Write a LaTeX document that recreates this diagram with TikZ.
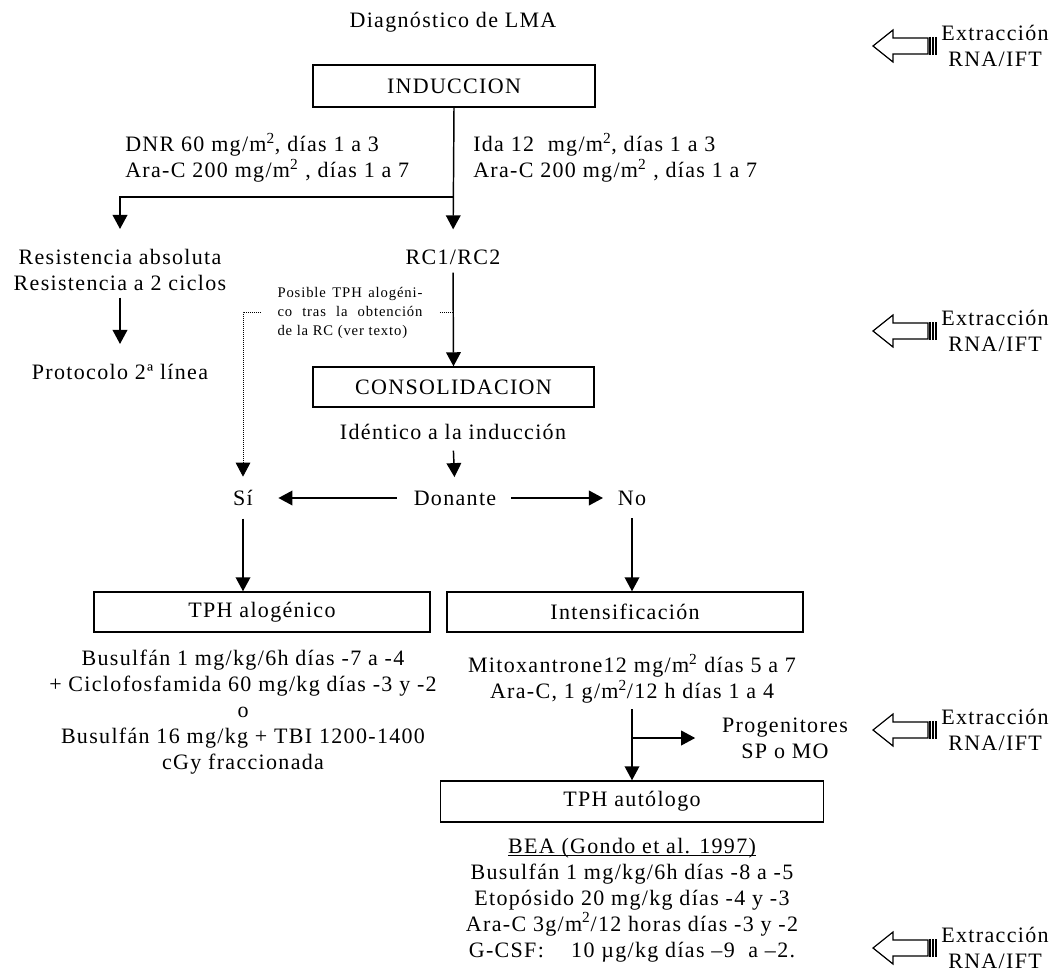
\documentclass[tikz,border=0pt]{standalone}
\usepackage{fontspec}
\setmainfont{Liberation Serif}[LetterSpace=6]
\usetikzlibrary{arrows.meta}

\tikzset{
  txt/.style={inner sep=0pt, align=center, font=\fontsize{16.5}{19.5}\selectfont},
  small/.style={inner sep=0pt, align=left, font=\fontsize{11}{14}\selectfont},
  stage/.style={draw, line width=1.1pt, inner sep=0pt, minimum height=30pt,
    font=\fontsize{16.5}{19.5}\selectfont},
  flow/.style={line width=1.1pt, -{Triangle[length=10.5pt,width=11pt]}},
  optional/.style={flow, line width=0.6pt, dash pattern=on 0.6pt off 0.9pt},
  into/.style={shorten >=#1},
  outof/.style={shorten <=#1},
}

\begin{document}
\begin{tikzpicture}[x=0.75pt,y=-0.75pt]
\useasboundingbox (0,0) rectangle (1055,973);

\node[txt] (diag) at (453,22) {Diagnóstico de LMA};
\node[stage, minimum width=211.5pt, minimum height=31.5pt] (induccion) at (454,86) {INDUCCION};

\node[txt, anchor=west, align=left] (dnr) at (125,158) {DNR 60 mg/m\textsuperscript{2}, días 1 a 3\\Ara-C 200 mg/m\textsuperscript{2} , días 1 a 7};
\node[txt, anchor=west, align=left] (ida) at (473,158) {Ida 12\ \ mg/m\textsuperscript{2}, días 1 a 3\\Ara-C 200 mg/m\textsuperscript{2} , días 1 a 7};

\node[txt] (rc) at (453,257) {RC1/RC2};
\node[txt] (resist) at (120,270) {Resistencia absoluta\\Resistencia a 2 ciclos};
\node[txt] (proto) at (120,372) {Protocolo 2ª línea};

\node[stage, minimum width=210.75pt] (consol) at (453.5,387) {CONSOLIDACION};
\node[txt] (ident) at (453,432) {Idéntico a la inducción};

\node[txt] (donante) at (455,498) {Donante};
\node[txt] (si) at (243,498) {Sí};
\node[txt] (no) at (632,498) {No};

\node[stage, minimum width=252pt] (alog) at (262,612) {TPH alogénico};
\node[stage, minimum width=267pt] (intens) at (625,612) {Intensificación};

\node[txt] (alogtxt) at (243,712) {Busulfán 1 mg/kg/6h días -7 a -4\\+ Ciclofosfamida 60 mg/kg días -3 y -2\\o\\Busulfán 16 mg/kg + TBI 1200-1400\\cGy fraccionada};
\node[txt] (intenstxt) at (632,679) {Mitoxantrone12 mg/m\textsuperscript{2} días 5 a 7\\Ara-C, 1 g/m\textsuperscript{2}/12 h días 1 a 4};
\node[txt] (prog) at (785,738) {Progenitores\\SP o MO};

\node[stage, minimum width=287.25pt, minimum height=30.75pt] (autologo) at (632,801.5) {TPH autólogo};
\node[txt] (bea) at (632,900) {\underline{\raisebox{0pt}[\height][0pt]{BEA (Gondo et al. 1997)}}\\Busulfán 1 mg/kg/6h días -8 a -5\\Etopósido 20 mg/kg días -4 y -3\\Ara-C 3g/m\textsuperscript{2}/12 horas días -3 y -2\\G-CSF:\ \ \ \ 10 µg/kg días –9\ \ a –2.};

\coordinate (split) at (453,197);
\coordinate (tap) at (453,312);
\coordinate (branch) at (632,738);

\draw[flow, into=15pt] (induccion.south) -- (rc.north);
\draw[flow, into=15pt] (split) -| (resist.north);
\draw[flow, outof=5pt, into=15pt] (resist.south) -- (proto.north);
\draw[flow, outof=6pt] (rc.south) -- (consol.north);
\draw[flow, outof=8pt, into=10pt] (ident.south) -- (donante.north);
\draw[flow, outof=12.75pt, into=19pt] (donante.west) -- (si.east);
\draw[flow, outof=11pt, into=11pt] (donante.east) -- (no.west);
\draw[flow, outof=9.5pt] (si.south) -- (si.south |- alog.north);
\draw[flow, outof=9.5pt] (no.south) -- (no.south |- intens.north);
\draw[flow, outof=4pt] (intenstxt.south) -- (autologo.north);
\draw[flow, into=20pt] (branch) -- (prog.west);

% TPH alogenico tras la RC
\draw[optional, into=10pt] (tap) -| (si.north);
\node[small, fill=white, inner xsep=12.5pt, inner ysep=2pt] (posible) at (350,313)
  {\makebox[108.75pt][s]{Posible TPH alogéni-}\\\makebox[108.75pt][s]{co tras la obtención}\\de la RC (ver texto)};

% extraccion RNA/IFT
\foreach \c [count=\k] in {46,331,730,948} {
  \draw[line width=0.9pt] (873,\c) -- (893,{\c-16}) -- (893,{\c-8}) -- (928,{\c-8})
    -- (928,{\c+8}) -- (893,{\c+8}) -- (893,{\c+16}) -- cycle;
  \foreach \b in {930,933,936}
    \draw[line width=0.9pt] (\b,{\c-9}) -- (\b,{\c+9});
  \node[txt] (ext\k) at (995,\c) {Extracción\\RNA/IFT};
}
\end{tikzpicture}
\end{document}
